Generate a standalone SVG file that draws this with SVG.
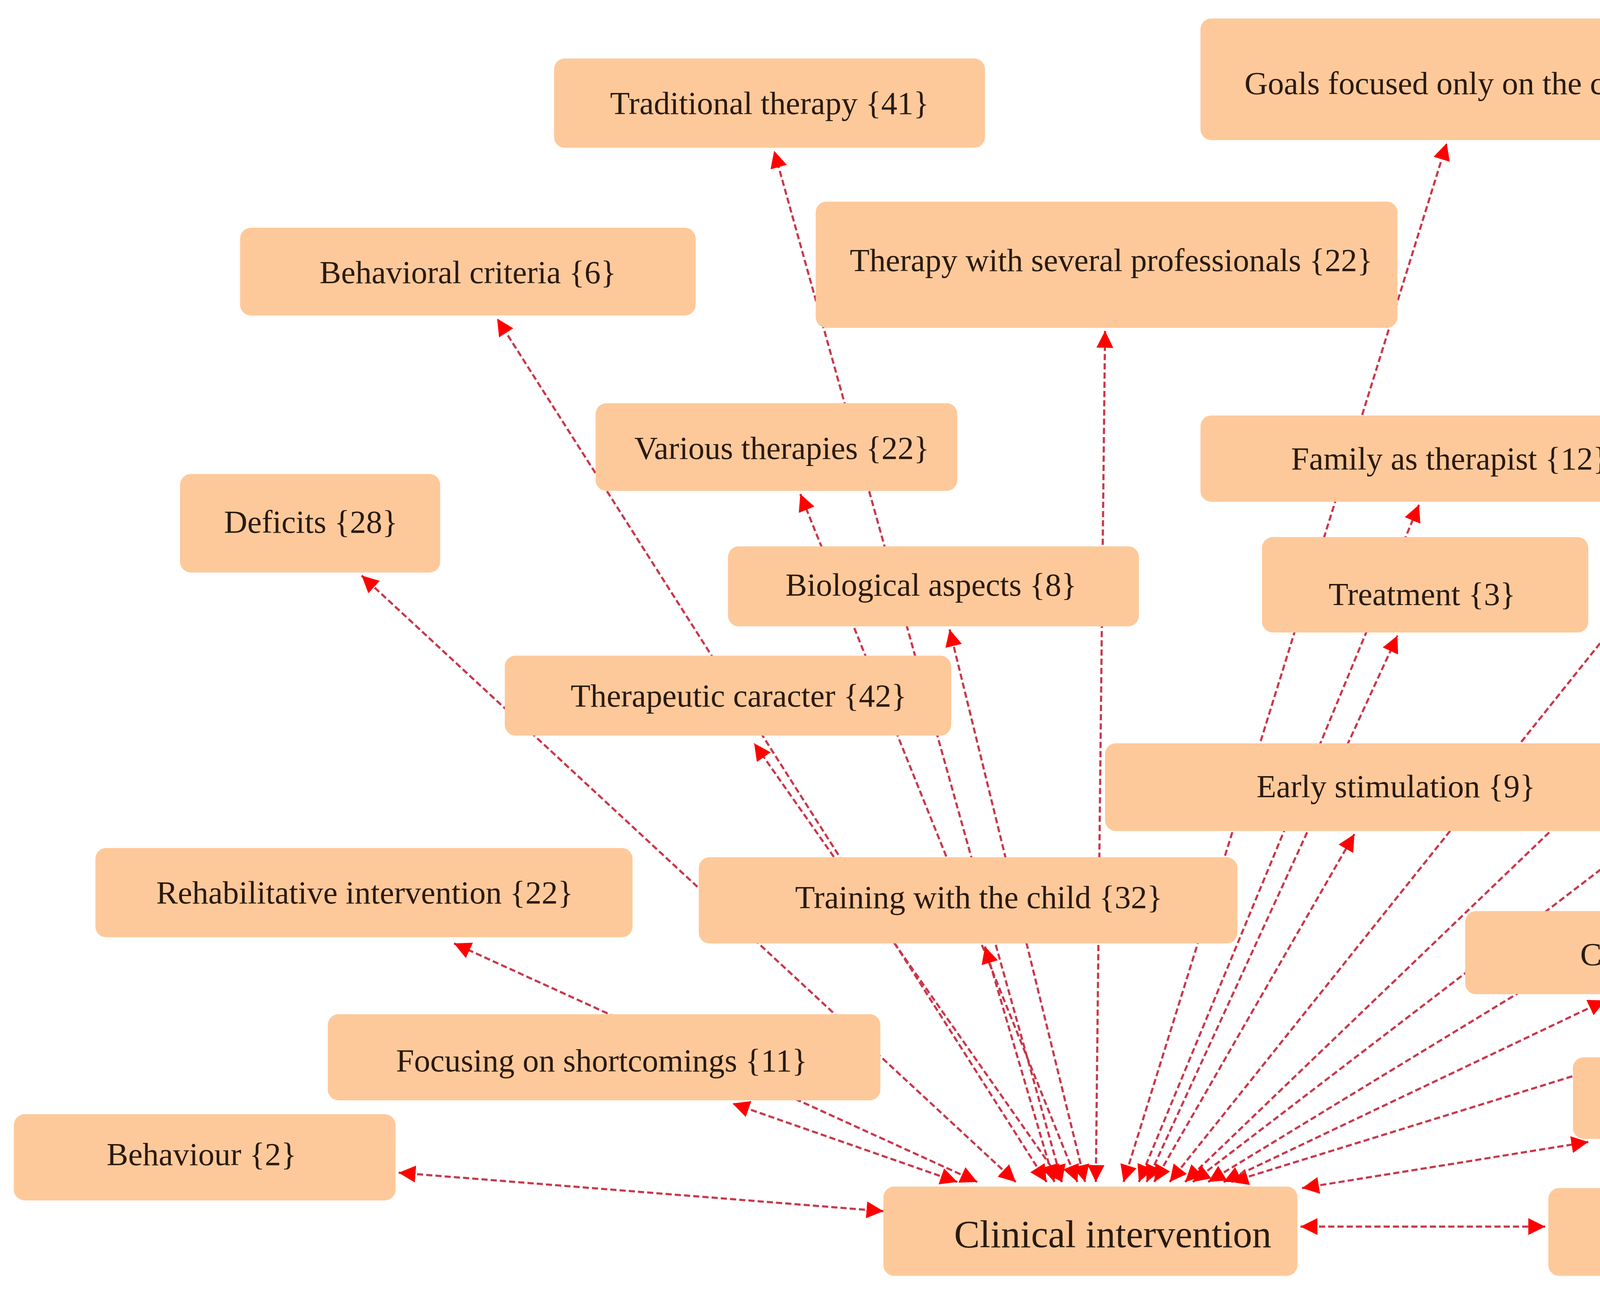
<svg xmlns="http://www.w3.org/2000/svg" width="6158" height="3300" viewBox="0 0 6158 3300">
<style>
.n rect{fill:#fdc99a;stroke:none}
.n text{font-family:"Liberation Serif",serif;font-size:21px;fill:#2a1a10;text-anchor:middle;dominant-baseline:central}
#edges line{stroke:#c9384c;stroke-width:1.4;stroke-dasharray:4 2;marker-start:url(#a);marker-end:url(#a)}
</style>
<defs>
<marker id="a" viewBox="0 0 10 10" refX="10" refY="5" markerWidth="11" markerHeight="11" markerUnits="userSpaceOnUse" orient="auto-start-reverse"><path d="M0,0 L10,5 L0,10 z" fill="#f00"/></marker>
</defs>
<rect width="6158" height="3300" fill="#fff"/>
<g transform="scale(3.94)">
<g id="edges">
<line x1="690" y1="768" x2="503" y2="98"/>
<line x1="730" y1="768" x2="940" y2="93"/>
<line x1="680" y1="768" x2="323" y2="207"/>
<line x1="712" y1="768" x2="718" y2="215"/>
<line x1="760" y1="768" x2="1205" y2="211"/>
<line x1="770" y1="768" x2="1270" y2="288"/>
<line x1="700" y1="768" x2="520" y2="321"/>
<line x1="740" y1="768" x2="922" y2="328"/>
<line x1="660" y1="768" x2="235" y2="374"/>
<line x1="705" y1="768" x2="617" y2="409"/>
<line x1="745" y1="768" x2="908" y2="413"/>
<line x1="775" y1="768" x2="1258" y2="398"/>
<line x1="690" y1="768" x2="490" y2="483"/>
<line x1="785" y1="768" x2="1243" y2="489"/>
<line x1="750" y1="768" x2="880" y2="542"/>
<line x1="635" y1="768" x2="295" y2="613"/>
<line x1="685" y1="768" x2="640" y2="615"/>
<line x1="800" y1="768" x2="1336" y2="602"/>
<line x1="795" y1="768" x2="1043" y2="650"/>
<line x1="622" y1="768" x2="476" y2="717"/>
<line x1="846" y1="772" x2="1032" y2="742"/>
<line x1="574" y1="787" x2="259" y2="762"/>
<line x1="845" y1="797" x2="1004" y2="797"/>
</g>
<g id="n1" class="n"><rect x="360" y="38" width="280" height="58" rx="7"/><text x="500" y="67">Traditional therapy {41}</text></g>
<g id="n2" class="n"><rect x="780" y="12" width="370" height="79" rx="7"/><text x="965" y="54">Goals focused  only on the child {14}</text></g>
<g id="n3" class="n"><rect x="156" y="148" width="296" height="57" rx="7"/><text x="304" y="177">Behavioral criteria {6}</text></g>
<g id="n4" class="n"><rect x="530" y="131" width="378" height="82" rx="7"/><text x="722" y="169">Therapy with several professionals {22}</text></g>
<g id="n5" class="n"><rect x="1047" y="129" width="396" height="80" rx="7"/><text x="1262" y="169">Child-centered  intervention  only {53}</text></g>
<g id="n6" class="n"><rect x="1116" y="229" width="378" height="57" rx="7"/><text x="1305" y="260">Intervention only in the CDIAT {27}</text></g>
<g id="n7" class="n"><rect x="387" y="262" width="235" height="57" rx="7"/><text x="508" y="291">Various  therapies  {22}</text></g>
<g id="n8" class="n"><rect x="780" y="270" width="320" height="56" rx="7"/><text x="942" y="298">Family as therapist {12}</text></g>
<g id="n9" class="n"><rect x="117" y="308" width="169" height="64" rx="7"/><text x="202" y="339">Deficits {28}</text></g>
<g id="n10" class="n"><rect x="473" y="355" width="267" height="52" rx="7"/><text x="605" y="380">Biological  aspects  {8}</text></g>
<g id="n11" class="n"><rect x="820" y="349" width="212" height="62" rx="7"/><text x="924" y="386">Treatment {3}</text></g>
<g id="n12" class="n"><rect x="1142" y="339" width="301" height="57" rx="7"/><text x="1294" y="368">Correct  deficiencies  {15}</text></g>
<g id="n13" class="n"><rect x="328" y="426" width="290" height="52" rx="7"/><text x="480" y="452">Therapeutic caracter {42}</text></g>
<g id="n14" class="n"><rect x="1142" y="433" width="318" height="53" rx="7"/><text x="1300" y="460">Child's limitations {12}</text></g>
<g id="n15" class="n"><rect x="718" y="483" width="378" height="57" rx="7"/><text x="907" y="511">Early stimulation {9}</text></g>
<g id="n16" class="n"><rect x="62" y="551" width="349" height="58" rx="7"/><text x="237" y="580">Rehabilitative  intervention  {22}</text></g>
<g id="n17" class="n"><rect x="454" y="557" width="350" height="56" rx="7"/><text x="636" y="583">Training with the child {32}</text></g>
<g id="n18" class="n"><rect x="1306" y="538" width="249" height="62" rx="7"/><text x="1420" y="571">Weak points {19}</text></g>
<g id="n19" class="n"><rect x="952" y="592" width="328" height="54" rx="7"/><text x="1112" y="620">Care treatment {28}</text></g>
<g id="n20" class="n"><rect x="213" y="659" width="359" height="56" rx="7"/><text x="391" y="689">Focusing  on shortcomings {11}</text></g>
<g id="n21" class="n"><rect x="1022" y="687" width="328" height="53" rx="7"/><text x="1189" y="712">Therapeutic  intervention  {49}</text></g>
<g id="n22" class="n"><rect x="9" y="724" width="248" height="56" rx="7"/><text x="131" y="750">Behaviour {2}</text></g>
<g id="n23" class="n"><rect x="574" y="771" width="269" height="58" rx="7"/><text x="723" y="802" style="font-size:25px">Clinical intervention</text></g>
<g id="n24" class="n"><rect x="1006" y="772" width="281" height="57" rx="7"/><text x="1143" y="799">Care function {28}</text></g>
</g>
</svg>
